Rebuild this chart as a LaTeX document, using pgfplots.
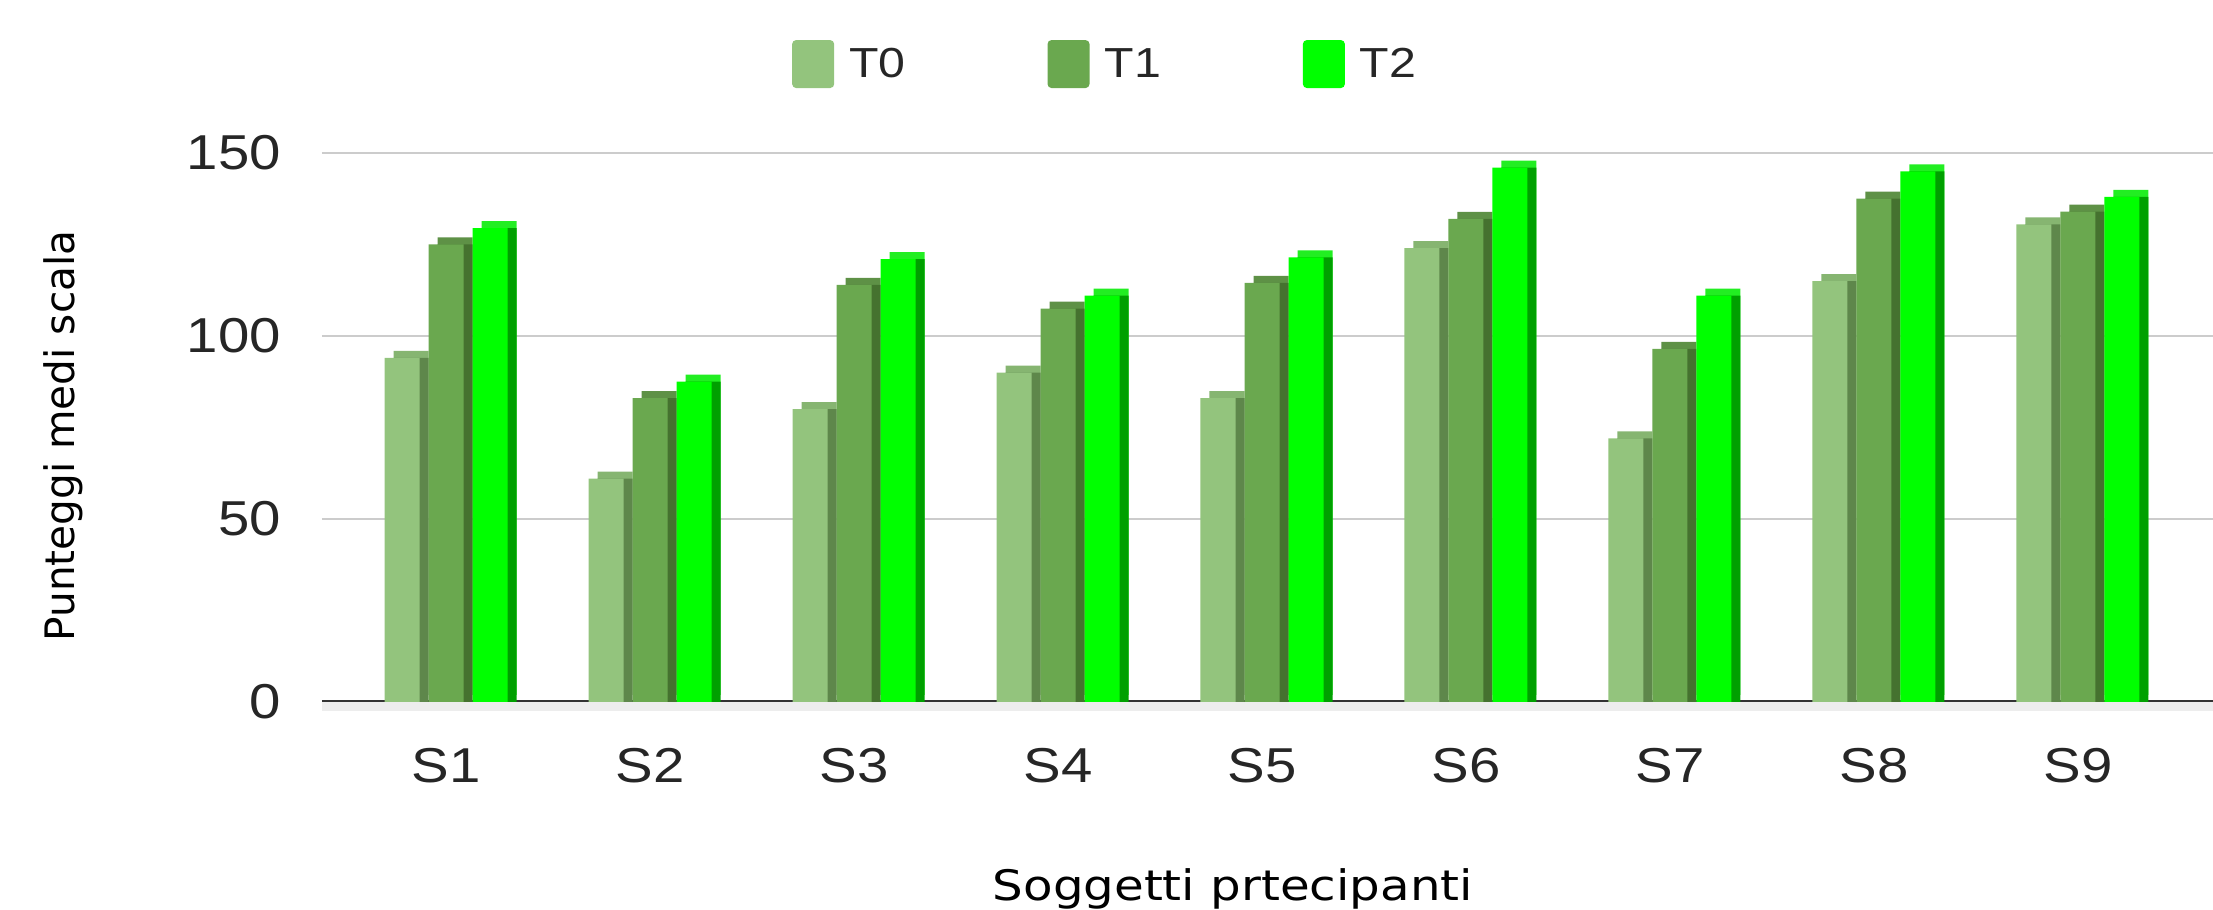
\documentclass[border=0pt]{standalone}
\usepackage{fontspec}
\setmainfont{Liberation Sans}[FakeStretch=1.15]
\newfontfamily\xtitlefont{DejaVu Sans}[FakeStretch=1.15]
\newfontfamily\ytitlefont{DejaVu Sans}
\usepackage{pgfplots}
\usepackage{pgfplotstable}
\pgfplotsset{compat=1.18}

% front, side and top faces of the three series
\definecolor{tzfront}{HTML}{93C47D}
\definecolor{tzside}{HTML}{5E874B}
\definecolor{tztop}{HTML}{86B571}
\definecolor{tofront}{HTML}{6AA84F}
\definecolor{toside}{HTML}{45722F}
\definecolor{totop}{HTML}{5E9146}
\definecolor{ttfront}{HTML}{00FF00}
\definecolor{ttside}{HTML}{00A000}
\definecolor{tttop}{HTML}{22EE22}

\newcommand{\tickfont}{\fontsize{24.5}{29}\selectfont}
\newcommand{\legendfont}{\fontsize{21}{25}\selectfont}

% mean scale scores per subject at T0, T1, T2
\pgfplotstableread{
x  t0     t1     t2
0  94     125    129.5
1  61     83     87.5
2  80     114    121
3  90     107.5  111
4  83     114.5  121.5
5  124    132    146
6  72     96.5   111
7  115    137.5  145
8  130.5  134    138
}\scores

\begin{document}
\begin{tikzpicture}
\useasboundingbox (0,0) rectangle (1106.5pt,455pt);
\begin{axis}[
  at={(161pt,104pt)}, anchor=south west,
  scale only axis, width=945.5pt, height=274.5pt,
  xmin=-0.608, xmax=8.662, ymin=0, ymax=150,
  clip=false,
  axis line style={draw=none},
  major tick length=0pt,
  ytick={0,50,100,150},
  xtick={0,1,2,3,4,5,6,7,8},
  xticklabels={S1,S2,S3,S4,S5,S6,S7,S8,S9},
  /pgf/number format/assume math mode=true,
  ymajorgrids,
  grid style={line width=1.3pt, color=black!20},
  extra y ticks={0}, extra y tick labels={},
  extra y tick style={grid style={line width=1.6pt, color=black!80}},
  yticklabel style={font=\tickfont, text=black!85, xshift=-17pt},
  xticklabel style={font=\tickfont, text=black!85, anchor=center, yshift=-32pt},
  every axis y label/.style={at={(axis description cs:-0.137,0.4845)}, anchor=center, rotate=90,
    font=\ytitlefont\fontsize{20.3}{24}\selectfont, text=black},
  every axis x label/.style={at={(axis description cs:0.4817,-0.3406)}, anchor=center,
    font=\xtitlefont\fontsize{21}{25}\selectfont, text=black},
  ylabel={Punteggi medi scala},
  xlabel={Soggetti prtecipanti},
  legend columns=3,
  legend style={at={(rel axis cs:0.4147,1.162)}, anchor=center, draw=none, fill=none,
    font=\legendfont, text=black!85,
    /tikz/every odd column/.append style={column sep=5.5pt},
    /tikz/every even column/.append style={column sep=69pt}},
]
% floor strip under the base line
\fill[black!7] (rel axis cs:0,0) rectangle ([yshift=-4.5pt]rel axis cs:1,0);

% T0
\addplot[ybar, bar width=17.5pt, bar shift=-17.5pt, yshift=3.5pt, fill=tztop, draw=none, forget plot] table[x=x,y=t0]{\scores};
\addplot[ybar, bar width=17.5pt, bar shift=-17.5pt, fill=tzside, draw=none, forget plot] table[x=x,y=t0]{\scores};
\addplot[ybar, bar width=17.5pt, bar shift=-22pt, fill=tzfront, draw=none,
  legend image code/.code={\fill[tzfront, rounded corners=2pt] (0pt,-12pt) rectangle (21pt,12pt);}]
  table[x=x,y=t0]{\scores};
\addlegendentry{T0}
% T1
\addplot[ybar, bar width=17.5pt, bar shift=4.5pt, yshift=3.5pt, fill=totop, draw=none, forget plot] table[x=x,y=t1]{\scores};
\addplot[ybar, bar width=17.5pt, bar shift=4.5pt, fill=toside, draw=none, forget plot] table[x=x,y=t1]{\scores};
\addplot[ybar, bar width=17.5pt, bar shift=0pt, fill=tofront, draw=none,
  legend image code/.code={\fill[tofront, rounded corners=2pt] (0pt,-12pt) rectangle (21pt,12pt);}]
  table[x=x,y=t1]{\scores};
\addlegendentry{T1}
% T2
\addplot[ybar, bar width=17.5pt, bar shift=26.5pt, yshift=3.5pt, fill=tttop, draw=none, forget plot] table[x=x,y=t2]{\scores};
\addplot[ybar, bar width=17.5pt, bar shift=26.5pt, fill=ttside, draw=none, forget plot] table[x=x,y=t2]{\scores};
\addplot[ybar, bar width=17.5pt, bar shift=22pt, fill=ttfront, draw=none,
  legend image code/.code={\fill[ttfront, rounded corners=2pt] (0pt,-12pt) rectangle (21pt,12pt);}]
  table[x=x,y=t2]{\scores};
\addlegendentry{T2}
\end{axis}
\end{tikzpicture}
\end{document}
